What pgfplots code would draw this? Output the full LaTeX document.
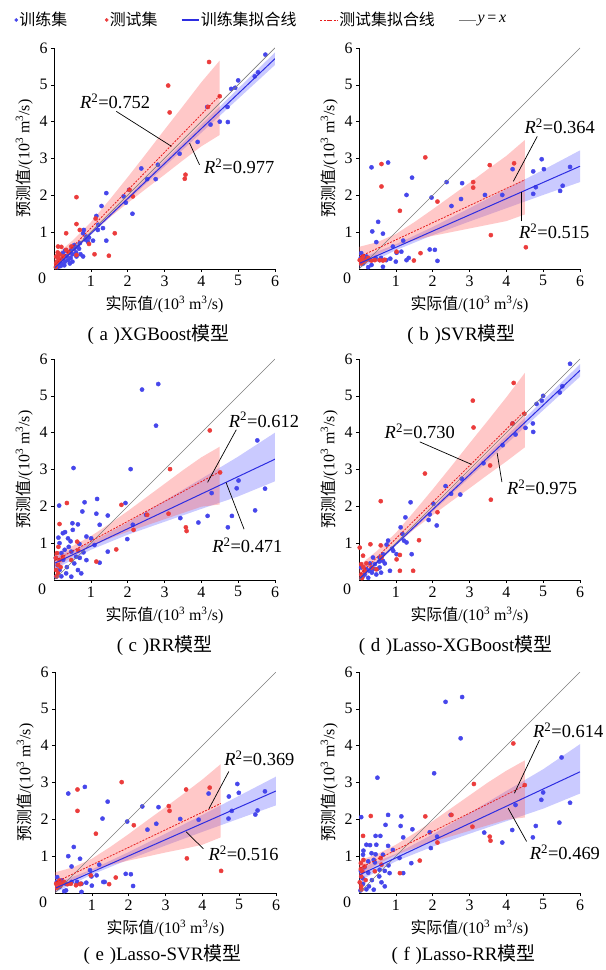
\documentclass[border=0pt]{standalone}
\usepackage{fontspec}
\setmainfont{Liberation Serif}
\newfontfamily\cjk{Noto Sans CJK SC}
\usepackage{pgfplots}
\pgfplotsset{compat=1.18}

\definecolor{ptblue}{RGB}{70,70,235}
\definecolor{ptred}{RGB}{235,60,60}
\definecolor{fitblue}{RGB}{45,45,225}
\definecolor{fitred}{RGB}{230,30,30}
\definecolor{idgray}{RGB}{125,125,125}
\newcommand\fs{\fontsize{16}{18}\selectfont}
\newcommand\fr{\fontsize{18.5}{20}\selectfont}
\newcommand\fc{\fontsize{19}{21}\selectfont}
\newcommand\rsq[1]{\textit{R}\textsuperscript{2}=#1}
\newcommand\unit{/(10\textsuperscript{3} m\textsuperscript{3}/s)}
\newcommand\subcap[2]{(\hspace{0.3em}#1\hspace{0.3em})#2{\cjk 模型}}

\tikzset{
  lead/.style={black, line width=0.7bp},
  rlab/.style={font=\fr},
  capt/.style={font=\fc},
}
\pgfplotsset{
  panel/.style={
    width=221bp, height=221bp, scale only axis,
    xmin=0, xmax=6, ymin=0, ymax=6,
    axis x line*=bottom, axis y line*=left,
    xtick={1,...,6}, ytick={1,...,6},
    extra x ticks={0},
    extra x tick style={xticklabel style={xshift=-12bp}, major tick length=0pt},
    tick align=outside, major tick length=3bp,
    tick style={black, line width=0.6bp},
    axis line style={black, line width=0.8bp},
    /pgf/number format/assume math mode=true,
    ticklabel style={font=\fs},
    label style={font=\fs},
    xlabel={{\cjk 实际值}\unit},
    ylabel={{\cjk 预测值}\unit},
    clip mode=individual,
    anchor=south west,
  },
  bandb/.style={draw=none, fill=blue!60!white, fill opacity=0.35},
  bandr/.style={draw=none, fill=red!60!white, fill opacity=0.36},
  trainpts/.style={only marks, mark=*, mark size=2.1bp, color=ptblue},
  testpts/.style={only marks, mark=*, mark size=2.1bp, color=ptred},
  idline/.style={idgray, line width=0.7bp},
  fitb/.style={fitblue, line width=1bp},
  fitr/.style={fitred, line width=0.8bp, dash pattern=on 2bp off 1.3bp},
  dotleg/.style={legend image code/.code={\path[draw=none] (0bp,0bp) -- (17bp,0bp); \draw[##1] plot coordinates {(16bp,0bp)};}},
}

\begin{document}
\begin{tikzpicture}
\useasboundingbox (0,0) rectangle (606bp,970bp);

% ---------------- (a) XGBoost
\begin{axis}[panel, at={(54bp,701bp)},
  legend style={draw=none, fill=none, font=\fs, at={(rel axis cs:-0.244,1.127)},
    anchor=west, inner sep=0pt, nodes={inner sep=1.5bp},
    /tikz/every even column/.append style={column sep=22bp}},
  legend columns=5, legend cell align=left]
\addlegendimage{trainpts, mark size=1.6bp, dotleg}
\addlegendentry{{\cjk 训练集}}
\addlegendimage{testpts, mark size=1.6bp, dotleg}
\addlegendentry{{\cjk 测试集}}
\addlegendimage{fitb, line width=1.2bp}
\addlegendentry{{\cjk 训练集拟合线}}
\addlegendimage{fitr}
\addlegendentry{{\cjk 测试集拟合线}}
\addlegendimage{idline}
\addlegendentry{\textit{y}\,=\,\textit{x}}

\addplot[bandb, forget plot] coordinates {(0,0.06)(1,1.00)(2,1.96)(3,2.94)(4,3.92)(5,4.90)(6,5.88)
  (6,5.54)(5,4.62)(4,3.70)(3,2.78)(2,1.86)(1,0.92)(0,-0.04)} -- cycle;
\addplot[bandr, forget plot] coordinates {(0,0.34)(0.5,0.77)(1,1.27)(1.5,1.87)(2,2.49)(2.5,3.13)(3,3.78)(3.5,4.42)(4,5.07)(4.5,5.66)
  (4.5,3.64)(4,3.33)(3.5,2.95)(3,2.56)(2.5,2.18)(2,1.79)(1.5,1.39)(1,0.95)(0.5,0.43)(0,-0.18)} -- cycle;
\addplot[trainpts, forget plot] coordinates {(5.74,5.82)(5.54,5.34)(5.45,5.23)(5.0,5.12)(4.92,4.92)(4.81,4.89)(4.71,4.40)(4.72,3.99)(4.5,4.0)(4.25,3.92)(4.16,4.40)(3.90,3.45)(3.41,3.13)(2.82,2.83)(2.76,2.44)(2.53,2.44)(2.37,2.73)(2.04,2.15)(2.13,1.50)(1.95,1.80)(1.89,1.97)(1.42,2.06)(1.29,1.71)(1.33,1.11)(1.42,0.77)(1.2,1.2)(1.15,1.44)(1.19,1.06)(1.06,0.77)(0.88,0.88)(0.81,1.06)(0.79,0.97)(0.92,0.74)(0.7,0.7)(0.61,0.34)(0.79,0.34)(0.47,0.52)(0.38,0.24)(0.43,0.15)(0.24,0.43)(0.2,0.15)(0.11,0.11)(0.3,0.5)(0.35,0.35)(0.5,0.4)(0.55,0.55)(0.45,0.3)(0.6,0.45)(0.65,0.6)(0.3,0.2)(0.25,0.3)(0.15,0.25)(0.5,0.2)(0.4,0.45)(0.72,0.4)(0.85,0.8)(0.95,0.85)(0.1,0.05)(0.18,0.08)(0.55,0.65)(0.68,0.55)(0.28,0.1)};
\addplot[testpts, forget plot] coordinates {(4.21,5.62)(3.10,4.98)(3.14,4.25)(4.5,4.69)(4.18,4.4)(3.57,2.56)(3.55,2.45)(2.14,1.97)(2.05,2.15)(1.65,0.97)(1.49,0.36)(1.13,1.37)(1.1,0.4)(0.95,0.68)(0.61,1.95)(0.61,1.22)(0.7,1.06)(0.33,0.97)(0.11,0.61)(0.06,0.34)(0.15,0.24)(0.06,0.15)(0.24,0.34)(0.61,0.38)(0.33,0.52)(0.47,0.61)(0.1,0.45)(0.05,0.05)(0.12,0.3)(0.2,0.6)(0.08,0.2)(0.4,0.45)(0.15,0.4)};
\addplot[idline, forget plot] coordinates {(0,0)(6,6)};
\addplot[fitb, forget plot] coordinates {(0.03,0.04)(6,5.71)};
\addplot[fitr, forget plot] coordinates {(0.03,0.11)(4.5,4.71)};
\draw[lead] (axis cs:1.69,4.28) -- (axis cs:3.19,3.33);
\draw[lead] (axis cs:3.95,2.83) -- (axis cs:3.68,3.42);
\node[rlab] at (axis cs:1.66,4.55) {\rsq{0.752}};
\node[rlab] at (axis cs:5.03,2.78) {\rsq{0.977}};
\node[capt] at (rel axis cs:0.5,0) [yshift=-66bp, xshift=-6bp] {\subcap{a}{XGBoost}};
\end{axis}

% ---------------- (b) SVR
\begin{axis}[panel, at={(359bp,701bp)}]
\addplot[bandb] coordinates {(0,0.28)(1,0.67)(2,1.14)(3,1.65)(4,2.17)(5,2.69)(6,3.22)
  (6,2.36)(5,2.01)(4,1.65)(3,1.29)(2,0.92)(1,0.51)(0,0.02)} -- cycle;
\addplot[bandr] coordinates {(0,0.60)(0.5,0.73)(1,0.95)(1.5,1.27)(2,1.62)(2.5,1.98)(3,2.34)(3.5,2.71)(4,3.07)(4.5,3.50)
  (4.5,1.48)(4,1.30)(3.5,1.20)(3,1.10)(2.5,1.00)(2,0.90)(1.5,0.78)(1,0.63)(0.5,0.39)(0,0.07)} -- cycle;
\addplot[trainpts] coordinates {(5.73,2.77)(5.53,2.26)(5.46,2.12)(5.02,2.71)(4.96,2.98)(4.73,2.65)(4.8,2.22)(4.73,2.04)(4.17,2.71)(3.89,2.01)(3.42,2.01)(2.8,2.33)(2.77,1.9)(2.51,1.71)(2.38,2.36)(1.97,1.94)(1.44,2.48)(1.29,2.01)(1.92,0.53)(2.06,0.52)(2.13,0.22)(0.79,2.89)(0.34,2.76)(0.52,1.28)(0.36,1.02)(0.65,0.96)(0.47,0.73)(1.2,0.77)(1.15,0.47)(1.02,0.44)(1.29,0.24)(0.92,0.61)(0.74,0.24)(0.56,0.24)(0.2,0.34)(0.11,0.15)(0.34,0.11)(0.65,0.06)(0.06,0.43)(0.3,0.25)(0.45,0.3)(0.85,0.28)(1.0,0.2)(0.15,0.25)(0.6,0.3)(1.35,0.3)(0.25,0.05)(0.05,0.3)};
\addplot[testpts] coordinates {(1.80,3.03)(0.61,2.85)(0.61,2.24)(1.11,1.58)(2.13,1.83)(3.1,2.36)(3.1,2.21)(3.55,2.82)(4.21,2.87)(3.58,0.92)(4.53,0.59)(1.67,0.43)(1.49,0.23)(1.02,0.47)(0.65,0.23)(0.56,0.24)(0.2,0.24)(0.06,0.15)(0.11,0.34)(0.34,0.23)(0.43,0.24)(0.02,0.24)(0.15,0.2)(0.08,0.28)(0.25,0.3)(0.7,0.25)};
\addplot[idline] coordinates {(0,0)(6,6)};
\addplot[fitb] coordinates {(0.03,0.16)(6,2.79)};
\addplot[fitr] coordinates {(0.03,0.34)(4.5,2.42)};
\draw[lead] (axis cs:4.84,3.6) -- (axis cs:4.19,2.38);
\draw[lead] (axis cs:4.42,1.29) -- (axis cs:4.42,2.09);
\node[rlab] at (axis cs:5.45,3.87) {\rsq{0.364}};
\node[rlab] at (axis cs:5.3,1.02) {\rsq{0.515}};
\node[capt] at (rel axis cs:0.5,0) [yshift=-66bp, xshift=-8bp] {\subcap{b}{SVR}};
\end{axis}

% ---------------- (c) RR
\begin{axis}[panel, at={(54bp,390bp)}]
\addplot[bandb] coordinates {(0,0.62)(1,1.02)(2,1.56)(3,2.15)(4,2.75)(5,3.35)(6,4.00)
  (6,2.68)(5,2.27)(4,1.93)(3,1.58)(2,1.23)(1,0.82)(0,0.28)} -- cycle;
\addplot[bandr] coordinates {(0,0.72)(0.5,0.92)(1,1.19)(1.5,1.52)(2,1.87)(2.5,2.24)(3,2.61)(3.5,2.98)(4,3.33)(4.5,3.62)
  (4.5,2.05)(4,1.99)(3.5,1.82)(3,1.65)(2.5,1.48)(2,1.31)(1.5,1.12)(1,0.91)(0.5,0.64)(0,0.30)} -- cycle;
\addplot[trainpts] coordinates {(2.83,5.32)(2.39,5.17)(2.77,4.19)(5.52,3.79)(5.01,2.70)(4.96,2.49)(5.73,2.48)(5.46,1.89)(4.83,1.74)(4.72,1.43)(4.17,1.74)(3.92,1.56)(3.43,1.68)(4.28,2.36)(2.5,1.77)(2.08,3.01)(1.94,2.09)(1.99,1.11)(2.14,1.5)(1.17,2.2)(1.15,1.8)(1.46,1.75)(1.24,1.5)(1.46,0.77)(1.24,0.47)(0.53,3.04)(0.83,2.11)(0.77,1.86)(0.5,1.54)(0.65,1.51)(0.88,1.18)(1.01,1.13)(0.69,0.98)(0.47,0.77)(0.24,1.27)(0.14,2.02)(0.15,1.0)(0.29,0.82)(0.6,0.63)(0.88,0.54)(0.65,0.27)(0.47,0.09)(0.33,0.18)(0.15,0.27)(0.06,0.09)(0.2,0.73)(0.38,1.13)(0.51,1.36)(0.74,0.18)(0.3,1.3)(0.4,0.9)(0.1,0.4)(0.25,0.55)(0.55,0.45)(0.05,0.6)(0.35,0.35)(0.8,0.75)(1.1,0.95)(0.2,0.1)(0.45,1.05)(0.12,1.15)(0.7,0.6)};
\addplot[testpts] coordinates {(4.23,4.06)(3.15,3.01)(3.11,1.8)(3.58,1.43)(3.6,1.33)(4.51,2.92)(2.53,1.77)(2.16,1.36)(1.83,2.04)(1.69,0.83)(1.15,0.5)(0.63,1.04)(0.66,0.8)(0.35,2.09)(0.15,1.52)(0.08,0.73)(0.15,0.54)(0.06,0.27)(0.11,0.18)(0.24,0.63)(0.47,0.54)(0.11,0.41)(0.05,0.6)(0.12,0.9)(0.18,0.35)(0.07,0.1)};
\addplot[idline] coordinates {(0,0)(6,6)};
\addplot[fitb] coordinates {(0.03,0.46)(6,3.28)};
\addplot[fitr] coordinates {(0.03,0.53)(4.5,2.94)};
\draw[lead] (axis cs:4.95,4.08) -- (axis cs:4.17,2.65);
\draw[lead] (axis cs:5.16,1.38) -- (axis cs:4.67,2.65);
\node[rlab] at (axis cs:5.7,4.35) {\rsq{0.612}};
\node[rlab] at (axis cs:5.25,0.95) {\rsq{0.471}};
\node[capt] at (rel axis cs:0.5,0) [yshift=-66bp, xshift=0bp] {\subcap{c}{RR}};
\end{axis}

% ---------------- (d) Lasso-XGBoost
\begin{axis}[panel, at={(359bp,390bp)}]
\addplot[bandb] coordinates {(0,0.07)(1,1.01)(2,1.96)(3,2.94)(4,3.91)(5,4.88)(6,5.86)
  (6,5.52)(5,4.61)(4,3.69)(3,2.78)(2,1.86)(1,0.93)(0,-0.03)} -- cycle;
\addplot[bandr] coordinates {(0,0.39)(0.5,0.80)(1,1.28)(1.5,1.86)(2,2.46)(2.5,3.08)(3,3.71)(3.5,4.33)(4,4.96)(4.5,5.62)
  (4.5,3.60)(4,3.22)(3.5,2.86)(3,2.49)(2.5,2.13)(2,1.76)(1.5,1.38)(1,0.96)(0.5,0.46)(0,-0.13)} -- cycle;
\addplot[trainpts] coordinates {(5.73,5.87)(5.52,5.26)(5.45,5.09)(5.0,5.0)(4.96,4.87)(4.82,4.78)(4.72,4.25)(4.73,4.02)(4.52,4.13)(4.25,3.95)(4.17,4.25)(3.9,3.66)(3.38,3.17)(2.79,2.75)(2.75,2.32)(2.5,2.34)(2.35,2.55)(2.02,2.07)(2.11,1.48)(1.92,1.78)(1.89,1.63)(1.4,2.11)(1.26,1.7)(1.13,1.43)(1.22,1.07)(1.43,0.7)(1.29,1.02)(1.18,1.25)(1.02,0.7)(0.93,0.79)(0.79,1.07)(0.75,0.96)(0.65,0.52)(0.56,0.34)(0.38,0.61)(0.29,0.25)(0.15,0.15)(0.25,0.06)(0.47,0.15)(0.06,0.34)(0.84,0.25)(0.56,0.61)(0.43,0.43)(0.3,0.45)(0.5,0.3)(0.65,0.7)(0.35,0.2)(0.2,0.3)(0.7,0.45)(0.9,0.85)(0.1,0.1)(0.55,0.5)(0.4,0.3)(0.6,0.2)};
\addplot[testpts] coordinates {(4.2,5.35)(3.09,4.87)(3.11,4.14)(4.17,4.25)(4.49,4.51)(3.56,3.11)(3.58,2.18)(1.79,2.89)(0.59,2.14)(1.63,1.08)(1.47,0.25)(1.11,0.25)(1.11,0.68)(0.31,0.97)(1.02,0.56)(2.13,1.84)(0.59,0.94)(0.11,0.66)(0.02,0.88)(0.06,0.43)(0.15,0.25)(0.06,0.15)(0.34,0.34)(0.61,0.61)(0.47,0.29)(0.12,0.35)(0.2,0.45)(0.08,0.05)};
\addplot[idline] coordinates {(0,0)(6,6)};
\addplot[fitb] coordinates {(0.03,0.05)(6,5.69)};
\addplot[fitr] coordinates {(0.03,0.16)(4.5,4.59)};
\draw[lead] (axis cs:1.65,3.75) -- (axis cs:3.05,3.14);
\draw[lead] (axis cs:3.88,2.66) -- (axis cs:3.75,3.45);
\node[rlab] at (axis cs:1.65,4.03) {\rsq{0.730}};
\node[rlab] at (axis cs:4.97,2.52) {\rsq{0.975}};
\node[capt] at (rel axis cs:0.5,0) [yshift=-66bp, xshift=-14bp] {\subcap{d}{Lasso-XGBoost}};
\end{axis}

% ---------------- (e) Lasso-SVR
\begin{axis}[panel, at={(55bp,77bp)}]
\addplot[bandb] coordinates {(0,0.25)(1,0.64)(2,1.11)(3,1.61)(4,2.12)(5,2.64)(6,3.16)
  (6,2.38)(5,2.02)(4,1.66)(3,1.29)(2,0.91)(1,0.50)(0,0.01)} -- cycle;
\addplot[bandr] coordinates {(0,0.56)(0.5,0.70)(1,0.93)(1.5,1.25)(2,1.60)(2.5,1.97)(3,2.33)(3.5,2.70)(4,3.08)(4.5,3.50)
  (4.5,1.51)(4,1.31)(3.5,1.20)(3,1.10)(2.5,0.99)(2,0.88)(1.5,0.76)(1,0.61)(0.5,0.36)(0,0.03)} -- cycle;
\addplot[trainpts] coordinates {(5.7,2.76)(5.5,2.24)(5.44,2.13)(4.99,2.72)(4.95,2.96)(4.72,2.62)(4.8,2.23)(4.71,2.02)(4.17,2.7)(3.9,1.99)(3.4,2.01)(2.81,2.33)(2.75,1.88)(2.51,1.72)(2.37,2.35)(1.96,1.94)(1.43,2.48)(1.29,2.02)(1.92,0.52)(2.06,0.51)(2.12,0.19)(0.81,2.88)(0.36,2.7)(0.51,1.25)(0.36,1.0)(0.68,0.93)(0.45,0.72)(1.2,0.77)(1.13,0.48)(0.99,0.45)(1.31,0.3)(0.95,0.62)(0.72,0.25)(0.59,0.25)(0.18,0.34)(0.12,0.16)(0.3,0.07)(0.72,0.03)(0.06,0.43)(0.3,0.25)(0.45,0.3)(0.85,0.28)(1.0,0.2)(0.15,0.25)(0.6,0.3)(1.35,0.3)(0.25,0.05)(0.05,0.3)};
\addplot[testpts] coordinates {(1.81,3.01)(0.61,2.81)(0.61,2.23)(1.11,1.61)(2.14,1.84)(3.09,2.36)(3.11,2.23)(3.56,2.81)(4.2,2.86)(3.58,0.94)(4.51,0.6)(1.65,0.42)(1.47,0.24)(0.97,0.48)(0.68,0.24)(0.57,0.21)(0.18,0.25)(0.06,0.14)(0.12,0.34)(0.34,0.24)(0.43,0.25)(0.03,0.25)(0.15,0.2)(0.08,0.28)(0.25,0.3)(0.7,0.25)};
\addplot[idline] coordinates {(0,0)(6,6)};
\addplot[fitb] coordinates {(0.03,0.14)(6,2.77)};
\addplot[fitr] coordinates {(0.03,0.30)(4.5,2.43)};
\draw[lead] (axis cs:4.72,3.3) -- (axis cs:4.18,2.29);
\draw[lead] (axis cs:4.03,1.2) -- (axis cs:3.56,1.66);
\node[rlab] at (axis cs:5.55,3.65) {\rsq{0.369}};
\node[rlab] at (axis cs:5.12,1.07) {\rsq{0.516}};
\node[capt] at (rel axis cs:0.5,0) [yshift=-62bp, xshift=-3bp] {\subcap{e}{Lasso-SVR}};
\end{axis}

% ---------------- (f) Lasso-RR
\begin{axis}[panel, at={(359bp,77bp)}]
\addplot[bandb] coordinates {(0,0.66)(1,1.06)(2,1.59)(3,2.17)(4,2.77)(5,3.36)(6,4.04)
  (6,2.70)(5,2.29)(4,1.95)(3,1.61)(2,1.26)(1,0.86)(0,0.32)} -- cycle;
\addplot[bandr] coordinates {(0,0.88)(0.5,1.06)(1,1.31)(1.5,1.62)(2,1.95)(2.5,2.30)(3,2.65)(3.5,3.00)(4,3.32)(4.5,3.60)
  (4.5,2.05)(4,1.99)(3.5,1.84)(3,1.69)(2.5,1.54)(2,1.39)(1.5,1.22)(1,1.03)(0.5,0.78)(0,0.46)} -- cycle;
\addplot[trainpts] coordinates {(2.8,5.32)(2.35,5.19)(2.76,4.2)(5.5,3.68)(5.0,2.73)(4.95,2.53)(5.73,2.45)(5.44,1.91)(4.8,1.82)(4.72,1.51)(4.16,1.71)(3.89,1.37)(3.4,1.64)(4.25,2.39)(2.49,2.12)(2.04,3.25)(1.92,1.65)(1.95,1.22)(2.12,1.53)(1.15,2.08)(1.13,1.82)(1.45,1.73)(1.2,1.51)(1.42,0.81)(1.2,0.54)(0.5,3.13)(0.79,2.12)(0.72,1.85)(0.45,1.55)(0.58,1.55)(0.79,1.28)(0.92,1.17)(0.65,1.04)(0.43,0.83)(0.2,1.31)(0.06,2.06)(0.11,1.04)(0.25,0.86)(0.56,0.63)(0.83,0.54)(0.61,0.29)(0.4,0.09)(0.27,0.18)(0.11,0.25)(0.04,0.07)(0.15,0.7)(0.34,1.08)(0.47,1.31)(0.7,0.18)(0.3,1.3)(0.4,0.9)(0.1,0.4)(0.25,0.55)(0.55,0.45)(0.05,0.6)(0.35,0.35)(0.8,0.75)(1.1,0.95)(0.2,0.1)(0.45,1.05)(0.12,1.15)(0.7,0.6)};
\addplot[testpts] coordinates {(4.19,4.06)(3.12,2.96)(3.08,1.8)(3.55,1.53)(3.57,1.42)(4.5,2.93)(2.51,2.12)(2.13,1.37)(1.8,2.08)(1.65,0.88)(1.11,0.54)(0.59,0.95)(0.61,0.77)(0.32,2.09)(0.11,1.55)(0.05,0.81)(0.09,0.59)(0.02,0.29)(0.06,0.18)(0.15,0.72)(0.43,0.59)(0.06,0.45)(0.05,0.65)(0.12,0.9)(0.18,0.35)(0.07,0.1)};
\addplot[idline] coordinates {(0,0)(6,6)};
\addplot[fitb] coordinates {(0.03,0.50)(6,3.29)};
\addplot[fitr] coordinates {(0.03,0.68)(4.5,2.92)};
\draw[lead] (axis cs:4.9,4.15) -- (axis cs:4.22,2.71);
\draw[lead] (axis cs:4.55,1.4) -- (axis cs:4.05,2.3);
\node[rlab] at (axis cs:5.68,4.42) {\rsq{0.614}};
\node[rlab] at (axis cs:5.59,1.1) {\rsq{0.469}};
\node[capt] at (rel axis cs:0.5,0) [yshift=-62bp, xshift=-6bp] {\subcap{f}{Lasso-RR}};
\end{axis}
\end{tikzpicture}
\end{document}
